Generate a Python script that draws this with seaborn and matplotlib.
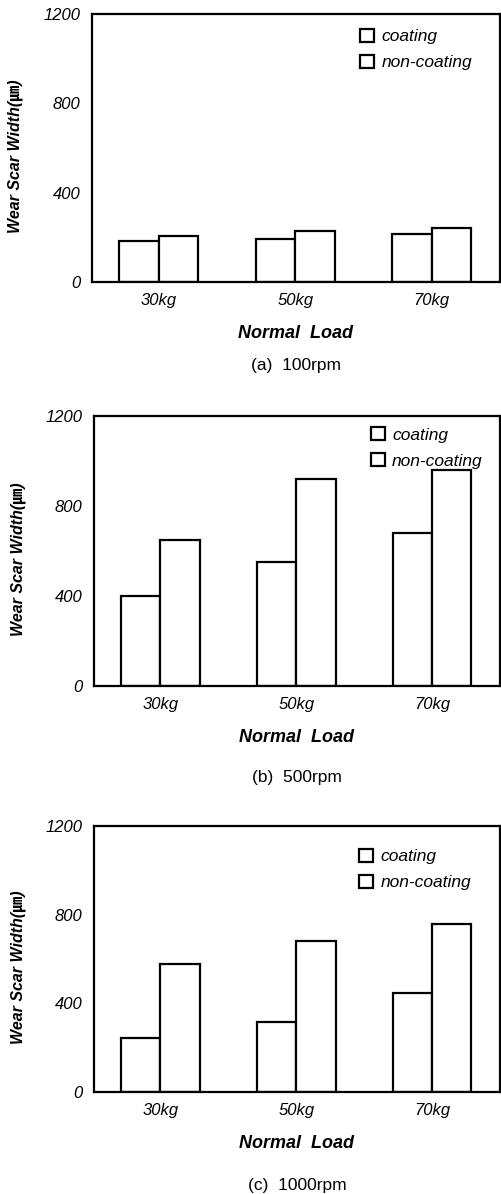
import pandas as pd
import matplotlib
matplotlib.use('Agg')
import matplotlib.pyplot as plt
import seaborn as sns

loads = ['30kg', '50kg', '70kg']
series = ['coating', 'non-coating']
yticks = [0, 400, 800, 1200]

coating_100 = [185, 192, 213]
noncoating_100 = [206, 228, 240]
coating_500 = [400, 548, 677]
noncoating_500 = [649, 917, 959]
coating_1000 = [242, 317, 447]
noncoating_1000 = [576, 683, 758]

captions = ['(a)  100rpm', '(b)  500rpm', '(c)  1000rpm']

sns.set_style('white')
plt.rcParams['font.family'] = ['Liberation Sans', 'Noto Sans CJK JP', 'DejaVu Sans']
plt.rcParams['text.color'] = 'black'
plt.rcParams['axes.labelcolor'] = 'black'
plt.rcParams['xtick.color'] = 'black'
plt.rcParams['ytick.color'] = 'black'

# axes rect, legend anchor, caption offset
panels = [
    (coating_100, noncoating_100, [0.183, 0.7638, 0.813, 0.2245], (0.658, 0.945), -0.31),
    (coating_500, noncoating_500, [0.187, 0.4257, 0.809, 0.2261], (0.683, 0.958), -0.34),
    (coating_1000, noncoating_1000, [0.187, 0.0854, 0.809, 0.2228], (0.654, 0.915), -0.35),
]

fig = plt.figure(figsize=(5.02, 11.94), dpi=100)

for (coat, noncoat, rect, legpos, capy), cap in zip(panels, captions):
    ax = fig.add_axes(rect)
    df = pd.DataFrame({
        'load': loads * 2,
        'width': coat + noncoat,
        'type': [series[0]] * 3 + [series[1]] * 3,
    })
    sns.barplot(data=df, x='load', y='width', hue='type', order=loads,
                hue_order=series, palette=['white', 'white'],
                edgecolor='black', linewidth=1.6, width=0.58, gap=0,
                ax=ax)
    ax.set_xlim(-0.49, 2.5)
    ax.set_ylim(0, 1200)
    ax.set_yticks(yticks)
    ax.set_yticklabels([str(t) for t in yticks], fontsize=12, style='italic')
    ax.set_xticklabels(loads, fontsize=12, style='italic')
    ax.tick_params(length=0, pad=8)
    for s in ax.spines.values():
        s.set_visible(True)
        s.set_color('black')
        s.set_linewidth(1.6)
    ax.set_ylabel('Wear Scar Width(㎛)', fontsize=11.5, fontweight='bold',
                  style='italic')
    ax.yaxis.set_label_coords(-0.168, 0.47)
    ax.set_xlabel('Normal  Load', fontsize=13, fontweight='bold', style='italic')
    ax.xaxis.set_label_coords(0.5, -0.16)
    ax.text(0.5, capy, cap, transform=ax.transAxes, ha='center', va='center',
            fontsize=12.5)
    handles, labels = ax.get_legend_handles_labels()
    ax.legend(handles, labels, loc='upper left', bbox_to_anchor=legpos,
              frameon=False, handlelength=0.8, handleheight=0.8,
              handletextpad=0.4, borderpad=0, borderaxespad=0,
              labelspacing=0.6, prop={'size': 12.5, 'style': 'italic'})

fig.savefig('out.png', dpi=100)
